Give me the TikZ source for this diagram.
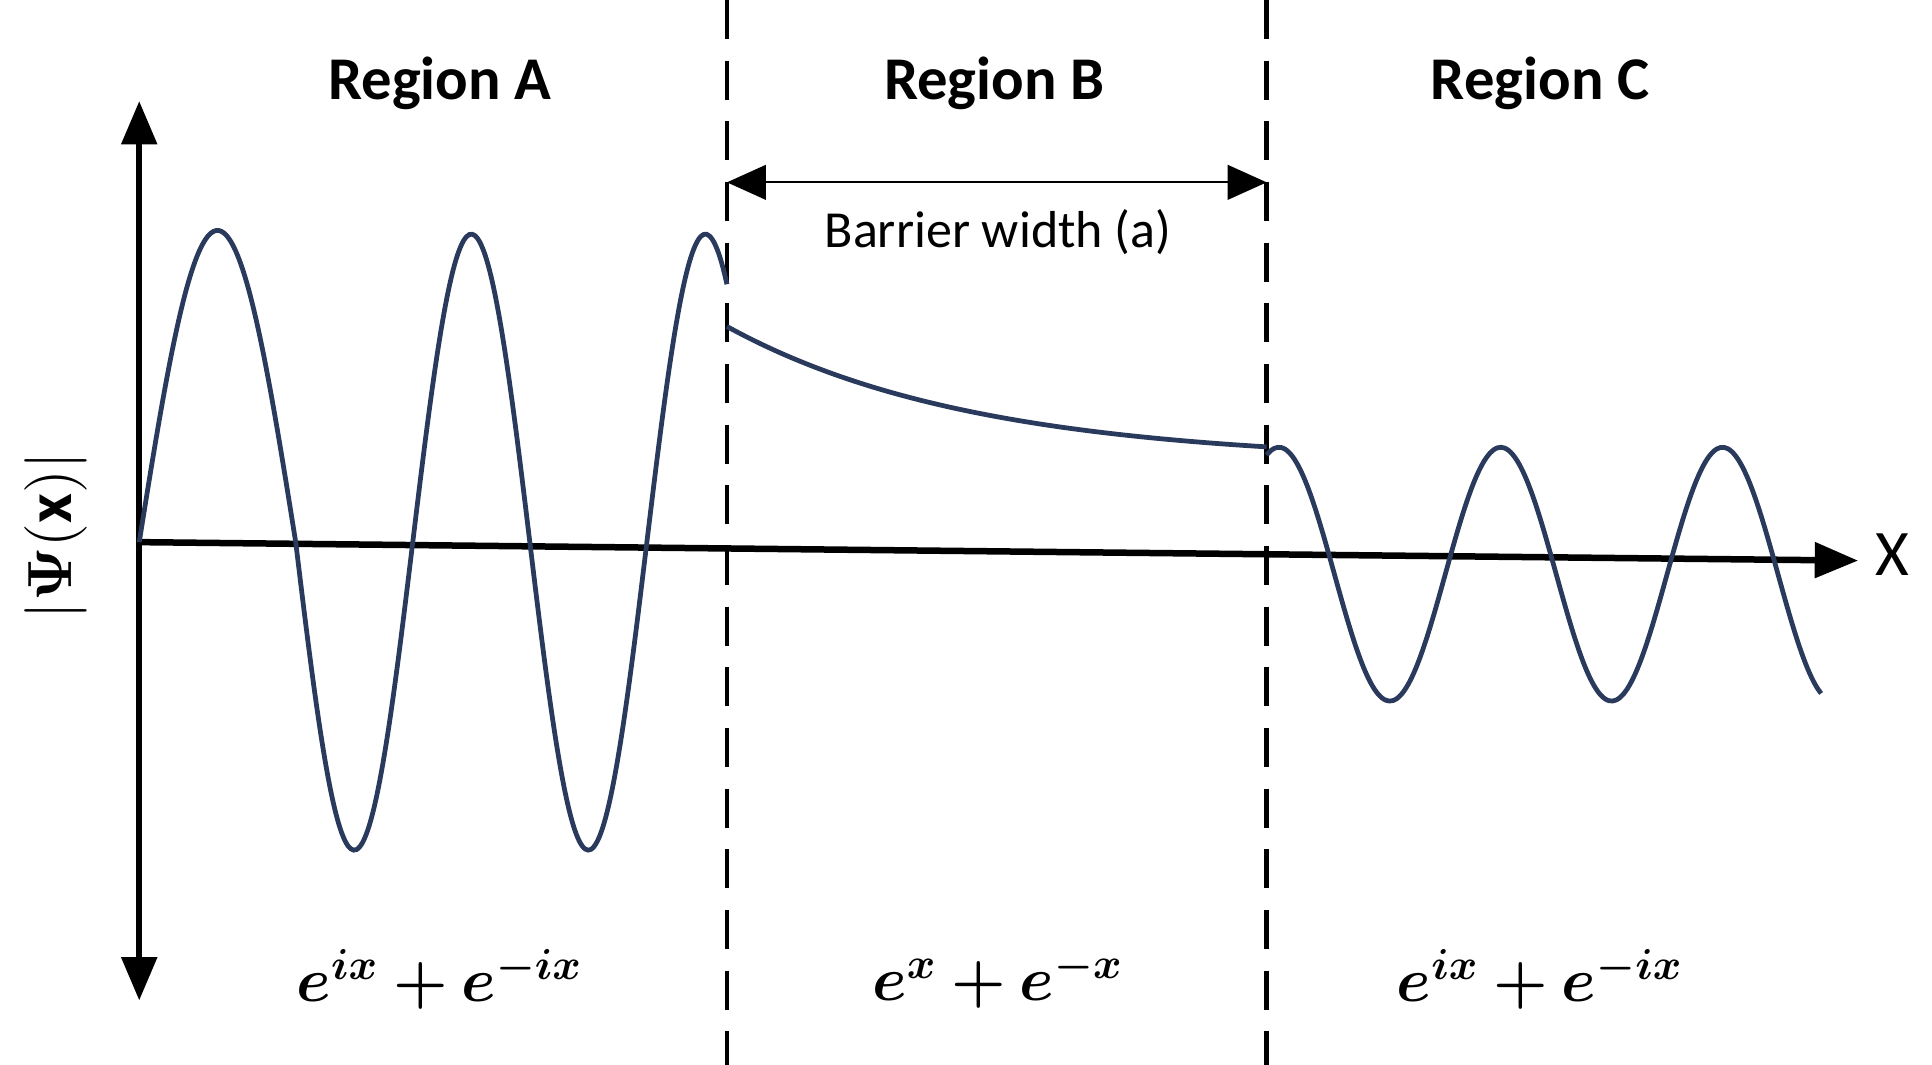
\documentclass[tikz,border=0pt]{standalone}
\usepackage{fontspec}
\usepackage{amsmath}
\usepackage{bm}
\setmainfont{Carlito}
\usetikzlibrary{arrows.meta}
\begin{document}
\begin{tikzpicture}[x=0.01cm,y=-0.01cm,
  axis/.style={line width=1.5pt,-{Triangle[length=10pt,width=8pt]}},
  wave/.style={line width=1.1pt,color=wavec},
  divider/.style={line width=1.1pt,dash pattern=on 9pt off 5pt},
  region/.style={font=\fontsize{14}{16}\selectfont\bfseries},
  formula/.style={font=\fontsize{14}{16}\selectfont}]
\definecolor{wavec}{HTML}{2A3A5C}
\useasboundingbox (0,0) rectangle (1568,864);
% dividers
\coordinate (d1t) at (590,0); \coordinate (d1b) at (590,864);
\coordinate (d2t) at (1028,0); \coordinate (d2b) at (1028,864);
\draw[divider] (d1t) -- (d1b);
\draw[divider] (d2t) -- (d2b);
% axes
\coordinate (o) at (113,440);
\coordinate (ytop) at (113,82);
\coordinate (ybot) at (113,812);
\coordinate (xend) at (1508,455);
\draw[axis] (o) -- (ytop);
\draw[axis] (o) -- (ybot);
\draw[axis] (o) -- (xend);
\node (xl) at (1536,450) {\fontsize{15}{17}\selectfont X};
\node[rotate=90] (psi) at (45,435) {\fontsize{15}{17}\selectfont$|\bm{\Psi}(\mathbf{x})|$};
% labels
\node[region] (ra) at (357,68) {Region A};
\node[region] (rb) at (807,68) {Region B};
\node[region] (rc) at (1250,68) {Region C};
\coordinate (bw1) at (590,148); \coordinate (bw2) at (1028,148);
\draw[line width=0.5pt,{Triangle[length=9pt,width=8pt]}-{Triangle[length=9pt,width=8pt]}] (bw1) -- (bw2);
\node (bwl) at (810,188) {\fontsize{12}{14}\selectfont Barrier width (a)};
\node[formula] (fa) at (357,795) {$\bm{e^{ix}+e^{-ix}}$};
\node[formula] (fb) at (810,795) {$\bm{e^{x}+e^{-x}}$};
\node[formula] (fc) at (1250,795) {$\bm{e^{ix}+e^{-ix}}$};
% waves
\draw[wave,smooth,samples=60,domain=113:240,variable=\t] plot (\t,{440-253*sin((\t-113)/127*180)});
\draw[wave,smooth,samples=150,domain=240:590,variable=\t] plot (\t,{440+250*sin((\t-240)/95*180)});
\draw[wave,smooth,samples=60,domain=590:1028,variable=\t] plot (\t,{265+110*(1-exp(-(\t-590)/200))});
\draw[wave,smooth,samples=150,domain=1028:1478,variable=\t] plot (\t,{466-103*cos((\t-1218)/180*360)});
\end{tikzpicture}
\end{document}
